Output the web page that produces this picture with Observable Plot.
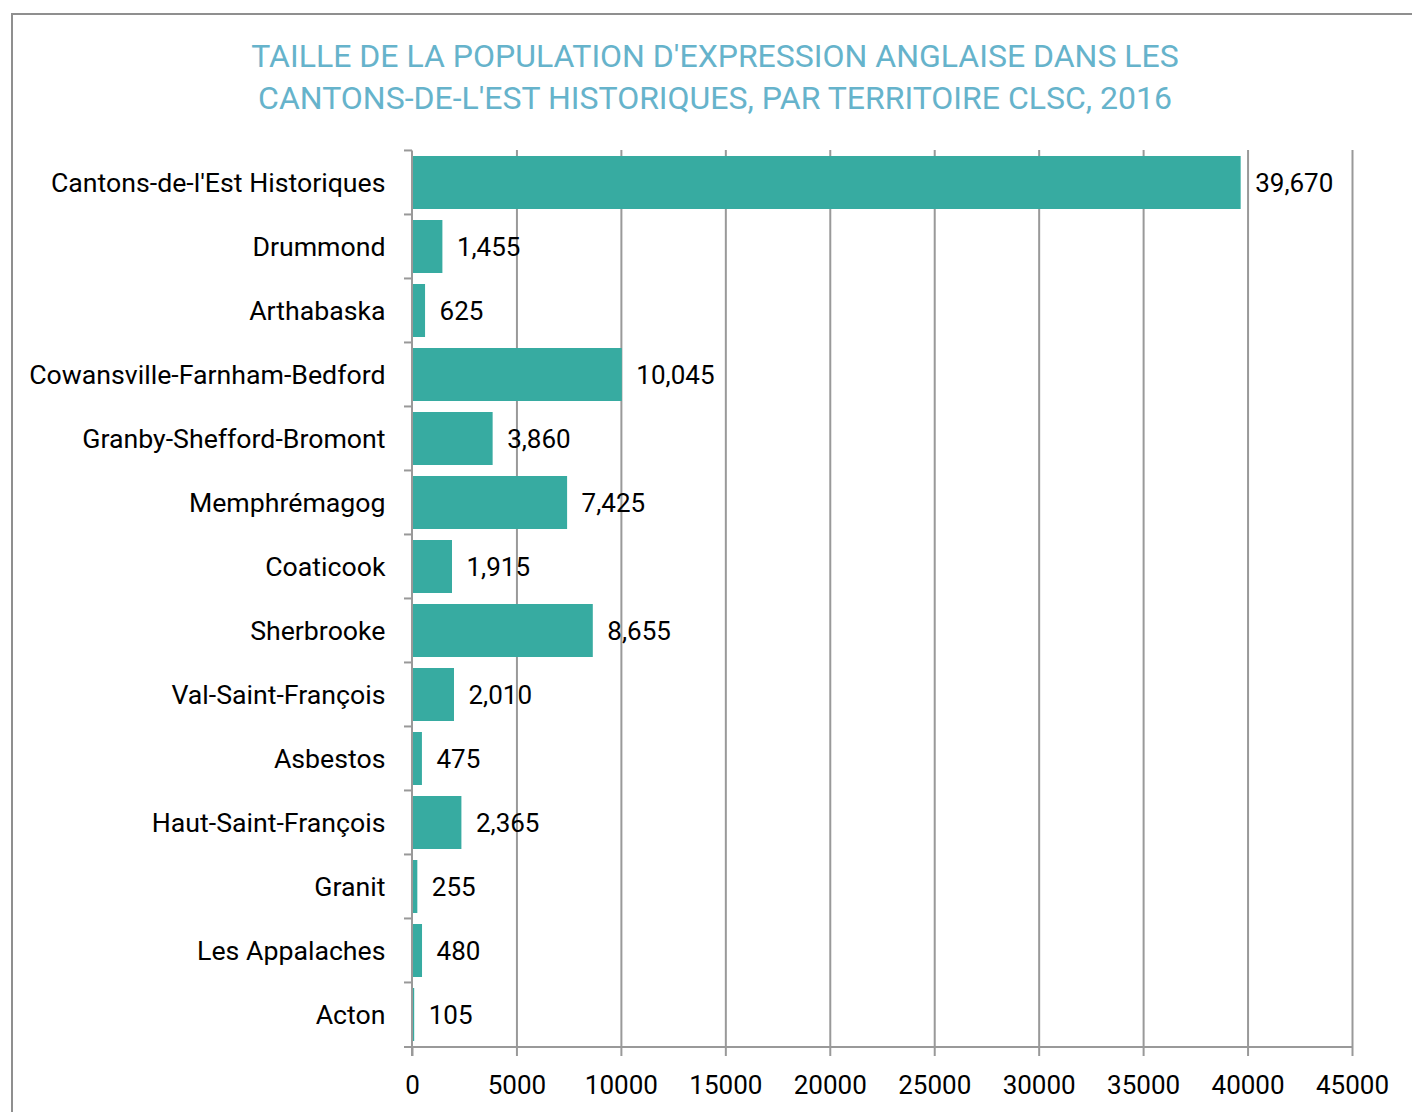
<!DOCTYPE html>
<html>
<head>
<meta charset="utf-8">
<script src="https://cdn.jsdelivr.net/npm/d3@7"></script>
<script src="https://cdn.jsdelivr.net/npm/@observablehq/plot@0.6"></script>
<style>
  html, body { margin: 0; padding: 0; background: #fff; }
  body { width: 1412px; height: 1112px; position: relative; overflow: hidden; font-family: Roboto, sans-serif; }
  #frame { position: absolute; left: 11px; top: 13px; width: 1500px; height: 1200px;
           border-left: 2px solid #8f8f8f; border-top: 2px solid #8f8f8f; pointer-events: none; }
  #title { position: absolute; left: 0; top: 35px; width: 1430px; text-align: center;
           color: #66b3cb; font-size: 32px; line-height: 42px; font-family: Roboto, sans-serif; }
  #chart { position: absolute; left: 0; top: 130px; }
</style>
</head>
<body>
<div id="frame"></div>
<div id="title">TAILLE DE LA POPULATION D'EXPRESSION ANGLAISE DANS LES<br>CANTONS-DE-L'EST HISTORIQUES, PAR TERRITOIRE CLSC, 2016</div>
<div id="chart"></div>
<script>
const categories = [
  "Cantons-de-l'Est Historiques",
  "Drummond",
  "Arthabaska",
  "Cowansville-Farnham-Bedford",
  "Granby-Shefford-Bromont",
  "Memphrémagog",
  "Coaticook",
  "Sherbrooke",
  "Val-Saint-François",
  "Asbestos",
  "Haut-Saint-François",
  "Granit",
  "Les Appalaches",
  "Acton"
];
const values = [39670, 1455, 625, 10045, 3860, 7425, 1915, 8655, 2010, 475, 2365, 255, 480, 105];
const xTicks = [0, 5000, 10000, 15000, 20000, 25000, 30000, 35000, 40000, 45000];

const data = categories.map((c, i) => ({category: c, value: values[i]}));
const fmt = d3.format(",");
const gray = "#999";

// Excel-style axis lines and category boundary ticks
function axesFrame(index, scales, values, dimensions) {
  const ns = "http://www.w3.org/2000/svg";
  const g = document.createElementNS(ns, "g");
  const y = scales.y, x = scales.x;
  const {height, marginBottom, marginTop} = dimensions;
  const step = (height - marginTop - marginBottom) / categories.length;
  const bw = y.bandwidth ? y.bandwidth() : step * 0.83;
  const off = (step - bw) / 2;
  const x0 = x(0);
  const yBottom = height - marginBottom;
  const line = (x1, y1, x2, y2) => {
    const l = document.createElementNS(ns, "line");
    l.setAttribute("x1", x1); l.setAttribute("y1", y1);
    l.setAttribute("x2", x2); l.setAttribute("y2", y2);
    l.setAttribute("stroke", gray); l.setAttribute("stroke-width", 2);
    g.appendChild(l);
  };
  categories.forEach(c => {
    const yb = y(c) - off;
    line(x0 - 8, yb, x0, yb);
  });
  line(x0, y(categories[0]) - off, x0, yBottom + 9);
  line(x0 - 8, yBottom, x(xTicks[xTicks.length - 1]), yBottom);
  return g;
}

const chart = Plot.plot({
  width: 1412,
  height: 982,
  marginTop: 20,
  marginBottom: 65,
  marginLeft: 412,
  marginRight: 60,
  style: {fontFamily: "Roboto, sans-serif", fontSize: "26px", color: "#000", background: "transparent"},
  x: {domain: [0, 45000], ticks: xTicks, label: null},
  y: {domain: categories, paddingInner: 0.17, paddingOuter: 0.085, label: null},
  marks: [
    Plot.gridX(xTicks.slice(1), {stroke: gray, strokeWidth: 2, strokeOpacity: 1}),
    Plot.barX(data, {x: "value", y: "category", fill: "#37aba1"}),
    Plot.text(data, {x: "value", y: "category", text: d => fmt(d.value), textAnchor: "start", dx: 14, dy: 1, fontSize: 26, fill: "#000"}),
    Plot.axisX(xTicks, {tickSize: 9, tickPadding: 19, stroke: gray, strokeWidth: 2, fontSize: 26, tickFormat: d => String(d), label: null}),
    Plot.axisY({tickSize: 0, tickPadding: 27, fontSize: 26.7, label: null}),
    axesFrame
  ]
});
document.getElementById("chart").appendChild(chart);
</script>
</body>
</html>
